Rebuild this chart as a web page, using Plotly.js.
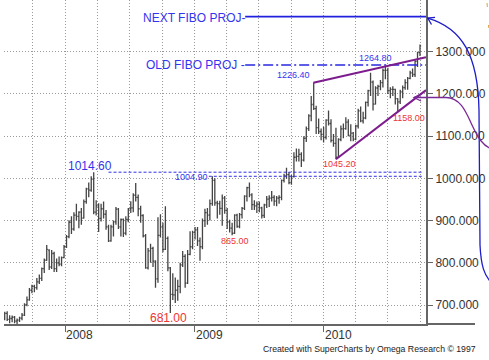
<!DOCTYPE html>
<html><head><meta charset="utf-8">
<script src="https://cdn.plot.ly/plotly-3.0.1.min.js"></script>
<style>html,body{margin:0;padding:0;background:#fff;overflow:hidden}#chart{width:489px;height:360px}</style>
</head><body><div id="chart"></div>
<script>
// Weekly bars (Friday dates)
const dates = [
'2007-07-13','2007-07-20','2007-07-27','2007-08-03','2007-08-10','2007-08-17','2007-08-24','2007-08-31',
'2007-09-07','2007-09-14','2007-09-21','2007-09-28','2007-10-05','2007-10-12','2007-10-19','2007-10-26',
'2007-11-02','2007-11-09','2007-11-16','2007-11-23','2007-11-30','2007-12-07','2007-12-14','2007-12-21','2007-12-28',
'2008-01-04','2008-01-11','2008-01-18','2008-01-25','2008-02-01','2008-02-08','2008-02-15','2008-02-22','2008-02-29',
'2008-03-07','2008-03-14','2008-03-21','2008-03-28','2008-04-04','2008-04-11','2008-04-18','2008-04-25',
'2008-05-02','2008-05-09','2008-05-16','2008-05-23','2008-05-30','2008-06-06','2008-06-13','2008-06-20','2008-06-27',
'2008-07-04','2008-07-11','2008-07-18','2008-07-25','2008-08-01','2008-08-08','2008-08-15','2008-08-22','2008-08-29',
'2008-09-05','2008-09-12','2008-09-19','2008-09-26','2008-10-03','2008-10-10','2008-10-17','2008-10-24','2008-10-31',
'2008-11-07','2008-11-14','2008-11-21','2008-11-28','2008-12-05','2008-12-12','2008-12-19','2008-12-26',
'2009-01-02','2009-01-09','2009-01-16','2009-01-23','2009-01-30','2009-02-06','2009-02-13','2009-02-20','2009-02-27',
'2009-03-06','2009-03-13','2009-03-20','2009-03-27','2009-04-03','2009-04-10','2009-04-17','2009-04-24',
'2009-05-01','2009-05-08','2009-05-15','2009-05-22','2009-05-29','2009-06-05','2009-06-12','2009-06-19','2009-06-26',
'2009-07-03','2009-07-10','2009-07-17','2009-07-24','2009-07-31','2009-08-07','2009-08-14','2009-08-21','2009-08-28',
'2009-09-04','2009-09-11','2009-09-18','2009-09-25','2009-10-02','2009-10-09','2009-10-16','2009-10-23','2009-10-30',
'2009-11-06','2009-11-13','2009-11-20','2009-11-27','2009-12-04','2009-12-11','2009-12-18','2009-12-25',
'2010-01-01','2010-01-08','2010-01-15','2010-01-22','2010-01-29','2010-02-05','2010-02-12','2010-02-19','2010-02-26',
'2010-03-05','2010-03-12','2010-03-19','2010-03-26','2010-04-02','2010-04-09','2010-04-16','2010-04-23','2010-04-30',
'2010-05-07','2010-05-14','2010-05-21','2010-05-28','2010-06-04','2010-06-11','2010-06-18','2010-06-25',
'2010-07-02','2010-07-09','2010-07-16','2010-07-23','2010-07-30','2010-08-06','2010-08-13','2010-08-20','2010-08-27',
'2010-09-03','2010-09-10','2010-09-17','2010-09-24','2010-10-01'];

const opens = [
667,680,666,668,671,662,664,669, 676,701,712,735,744,741,755,763, 786,806,830,790,822,786,800,797,812,
838,862,896,880,913,910,920,906,945, 975,972,998,920,935,905,928,915, 885,852,885,897,927,885,903,870,903,
928,930,960,955,928,912,864,788,828, 834,804,762,865,885,832,858,788,725, 724,735,744,795,815,752,820,838,
872,878,852,838,900,919,913,940,995, 942,940,929,953,924,897,882,870, 913,886,914,929,958,978,961,938,935,
939,930,912,937,951,953,955,946,953, 955,995,1006,1009,990,1004,1050,1052,1057, 1043,1095,1118,1148,1175,1165,1120,1111,
1104,1097,1138,1130,1090,1083,1050,1092,1117, 1118,1133,1102,1107,1093,1124,1160,1136,1143, 1180,1208,1228,1176,1214,1218,1227,1256,
1256,1208,1211,1211,1189,1181,1205,1215,1227, 1237,1250,1246,1277,1298];
const highs = [
684,685,676,675,674,668,672,681, 704,720,740,748,748,764,772,789, 810,842,832,830,826,810,815,815,842,
866,901,910,920,940,922,930,950,978, 990,1005,1014.6,948,941,940,945,925, 890,890,900,932,930,905,905,910,930,
946,965,989,962,935,915,868,835,845, 838,806,908,915,895,934,862,790,775, 765,760,800,828,820,830,875,876,
885,885,860,905,928,930,950,1004.9,1000, 947,947,962,958,930,902,895,915, 916,918,932,960,980,990,965,948,945,
945,933,940,958,960,970,960,958,960, 997,1011,1025,1015,1008,1062,1071,1070,1062, 1100,1123,1152,1195,1226.4,1172,1142,1118,
1122,1140,1161,1140,1105,1120,1095,1125,1130, 1145,1140,1128,1110,1127,1165,1170,1158,1182, 1210,1250,1232,1218,1222,1233,1260,1264.8,
1262,1216,1218,1212,1190,1210,1220,1235,1240, 1255,1260,1280,1300,1317];
const lows = [
664,662,657,659,657,652,660,664, 674,697,710,728,730,736,750,757, 776,805,783,785,778,778,792,792,811,
835,858,868,876,900,882,890,905,940, 955,968,915,912,873,898,905,878, 849,850,862,890,880,862,861,865,896,
918,920,945,910,895,860,786,784,800, 790,741,753,860,825,830,780,681,712, 705,710,728,790,741,750,818,832,
855,840,805,832,885,890,900,935,935, 905,914,888,916,880,872,865,868, 883,882,905,925,945,955,925,925,918,
920,905,906,930,932,945,935,934,940, 948,990,999,986,985,1002,1040,1040,1027, 1040,1086,1112,1135,1162,1105,1105,1090,
1085,1092,1125,1085,1075,1045.2,1049,1088,1095, 1115,1100,1088,1088,1090,1118,1133,1130,1140, 1170,1195,1161,1175,1195,1209,1215,1235,
1200,1190,1195,1175,1158,1176,1190,1210,1210, 1235,1240,1240,1264,1290];
const closes = [
680,666,668,671,662,664,669,676, 701,712,735,744,741,755,763,786, 806,832,790,822,786,800,797,812,838,
862,896,880,913,910,920,906,945,975, 972,998,920,935,905,928,915,885, 852,885,897,927,885,903,870,903,928,
930,960,955,928,912,864,788,828,834, 804,762,865,885,832,858,788,725,724, 735,744,795,815,752,820,838,872,
878,852,838,900,919,913,940,995,942, 940,929,953,924,897,882,870,913, 886,914,929,958,978,961,938,935,939,
930,912,937,951,953,955,946,953,955, 995,1006,1009,990,1004,1050,1052,1057,1043, 1095,1118,1148,1175,1165,1120,1111,1104,
1097,1138,1130,1090,1083,1050,1092,1117,1118, 1133,1102,1107,1093,1124,1160,1136,1143,1180, 1208,1228,1176,1214,1218,1227,1256,1256,
1208,1211,1211,1189,1181,1205,1215,1227,1237, 1250,1246,1277,1298,1314];

// Axes
const yTicks = [700,800,900,1000,1100,1200,1300];
const yearTicks = ['2008-01-01','2009-01-01','2010-01-01'];
const yearLabels = ['2008','2009','2010'];
const quarterTicks = ['2007-10-01','2008-01-01','2008-04-01','2008-07-01','2008-10-01','2009-01-01','2009-04-01',
  '2009-07-01','2009-10-01','2010-01-01','2010-04-01','2010-07-01','2010-10-01'];
const xRange = ['2007-07-11','2010-10-18'];
const yRange = [655, 1422.5];

// Annotated levels / trendlines
const nextFibo = 1383, oldFibo = 1268.5, fiboStart = '2009-05-24';
const level1 = 1014.6, level1Start = '2008-05-02';
const level2 = 1004.9, level2Start = '2009-02-10';
const levelEnd = '2010-10-10';
const upperLineX = ['2009-12-03','2010-10-18'], upperLineY = [1226.4, 1287];
const lowerLineX = ['2010-02-05','2010-10-18'], lowerLineY = [1045.2, 1209];

// Price labels
const labelText = ['1014.60','1004.90','1226.40','1264.80','1045.20','1158.00','865.00','681.00'];
const labelX = ['2008-01-04','2009-02-10','2009-11-27','2010-04-09','2009-12-28','2010-07-14','2009-03-15','2008-08-24'];
const labelY = [1029.7,1003.2,1244.8,1284.3,1035,1142,851.6,669.2];
const labelAnchor = ['left','right','right','left','left','left','left','left'];
const labelColor = ['#3434ee','#3434ee','#3434ee','#3434ee','#ee3434','#ee3434','#ee3434','#ee3434'];
const labelSize = [12,9,9,9,9,9,9,12];

const FONT = 'Liberation Sans, Arial, sans-serif';
const GRID = '#9a9a9a', AX = '#666';

const trace = {
  type: 'ohlc', x: dates, open: opens, high: highs, low: lows, close: closes,
  increasing: {line: {color: '#444', width: 1.3}},
  decreasing: {line: {color: '#444', width: 1.3}},
  tickwidth: 0.45, hoverinfo: 'skip', showlegend: false
};

// helpers for drawings in the right margin (paper units relative to plot area)
function P(X, Y){ return ((X-4)/422).toFixed(5) + ',' + ((324-Y)/324).toFixed(5); }

const shapes = [
  {type:'line', xref:'x', yref:'y', x0: fiboStart, x1: xRange[1], y0: nextFibo, y1: nextFibo, line:{color:'#2020dd', width:1.6}},
  {type:'line', xref:'x', yref:'y', x0: fiboStart, x1: xRange[1], y0: oldFibo, y1: oldFibo, line:{color:'#2828e0', width:1.4, dash:'10px,3px,2px,3px'}},
  {type:'line', xref:'x', yref:'y', x0: level1Start, x1: levelEnd, y0: level1, y1: level1, line:{color:'#3030e6', width:1, dash:'3px,2px'}},
  {type:'line', xref:'x', yref:'y', x0: level2Start, x1: levelEnd, y0: level2, y1: level2, line:{color:'#3030e6', width:1, dash:'3px,2px'}},
  {type:'line', xref:'x', yref:'y', x0: upperLineX[0], x1: upperLineX[1], y0: upperLineY[0], y1: upperLineY[1], line:{color:'#7d1c8c', width:2}},
  {type:'line', xref:'x', yref:'y', x0: lowerLineX[0], x1: lowerLineX[1], y0: lowerLineY[0], y1: lowerLineY[1], line:{color:'#7d1c8c', width:2}},
  {type:'line', xref:'paper', yref:'paper', x0: 1, x1: (475-4)/422, y0: 0, y1: 0, line:{color:AX, width:2}},
  {type:'path', xref:'paper', yref:'paper', line:{color:'#1c1cc8', width:1.3},
    path:`M ${P(427.7,18)} C ${P(462,28)} ${P(478,55)} ${P(479,110)} L ${P(480,245)} C ${P(481,265)} ${P(484,276)} ${P(492,283)}`},
  {type:'path', xref:'paper', yref:'paper', line:{color:'#1c1cc8', width:1.3},
    path:`M ${P(435,17.3)} L ${P(427.7,18)} L ${P(431.5,24.5)}`},
  {type:'path', xref:'paper', yref:'paper', line:{color:'#7a2a96', width:1.3},
    path:`M ${P(414,97.5)} L ${P(446,97.5)} C ${P(461,98)} ${P(466,112)} ${P(472,125)} C ${P(478,138)} ${P(483,146)} ${P(492,149)}`},
  {type:'path', xref:'paper', yref:'paper', line:{color:'#7a2a96', width:1.3},
    path:`M ${P(421,94)} L ${P(414,97.5)} L ${P(421,101)}`},
  {type:'path', xref:'paper', yref:'paper', line:{color:'#e0a040', width:1}, path:`M ${P(487,3)} L ${P(487.4,7)}`},
  {type:'path', xref:'paper', yref:'paper', line:{color:'#e0a040', width:1}, path:`M ${P(488.5,25)} L ${P(488.8,28)}`}
];

const annotations = labelText.map((t,i)=>({
  text: t, x: labelX[i], y: labelY[i], xref:'x', yref:'y', showarrow:false,
  xanchor: labelAnchor[i], yanchor:'middle', borderpad:0,
  font:{family:FONT, size:labelSize[i], color:labelColor[i]}
}));
yearLabels.forEach((t,i)=>annotations.push({
  text:t, x:yearTicks[i], xref:'x', yref:'paper', y:(324-335)/324, showarrow:false,
  xanchor:'left', yanchor:'middle', borderpad:0, xshift:0,
  font:{family:FONT, size:12, color:'#333'}
}));
annotations.push(
  {text:'NEXT FIBO PROJ-', xref:'x', yref:'y', x:'2008-08-06', y:1380, showarrow:false, xanchor:'left', yanchor:'middle', borderpad:0,
    font:{family:FONT, size:12, color:'#3434ee'}},
  {text:'OLD FIBO PROJ -', xref:'x', yref:'y', x:'2008-08-14', y:1268.5, showarrow:false, xanchor:'left', yanchor:'middle', borderpad:0,
    font:{family:FONT, size:12, color:'#3434ee'}},
  {text:'Created with SuperCharts by Omega Research \u00a9 1997', xref:'paper', yref:'paper', x:(262-4)/422, y:(324-349)/324,
    showarrow:false, xanchor:'left', yanchor:'middle', borderpad:0,
    font:{family:FONT, size:8.7, color:'#222'}}
);

const layout = {
  width: 489, height: 360,
  margin: {l:4, r:63, t:0, b:36, pad:0},
  paper_bgcolor:'#fff', plot_bgcolor:'#fff',
  showlegend:false, dragmode:false,
  font:{family:FONT, size:12, color:'#333'},
  xaxis: {
    type:'date', range:xRange, rangeslider:{visible:false},
    tickmode:'array', tickvals:yearTicks, ticktext:['','',''],
    ticks:'outside', ticklen:6, tickcolor:AX, tickwidth:1,
    showgrid:true, gridcolor:GRID, gridwidth:1, griddash:'1px,2px',
    minor:{tickmode:'array', tickvals:quarterTicks, showgrid:true, gridcolor:GRID, gridwidth:1, griddash:'1px,2px', ticks:''},
    showline:true, linecolor:AX, linewidth:2, zeroline:false, fixedrange:true
  },
  yaxis: {
    side:'right', range:yRange, tickmode:'array', tickvals:yTicks, tickformat:'.3f',
    ticks:'outside', ticklen:5, tickcolor:AX, tickwidth:1,
    tickfont:{family:FONT, size:12, color:'#333'},
    showgrid:true, gridcolor:GRID, gridwidth:1, griddash:'1px,2px',
    showline:true, linecolor:AX, linewidth:2, zeroline:false, fixedrange:true
  },
  shapes: shapes,
  annotations: annotations
};

Plotly.newPlot('chart', [trace], layout, {displayModeBar:false, staticPlot:true});
</script>
</body></html>
